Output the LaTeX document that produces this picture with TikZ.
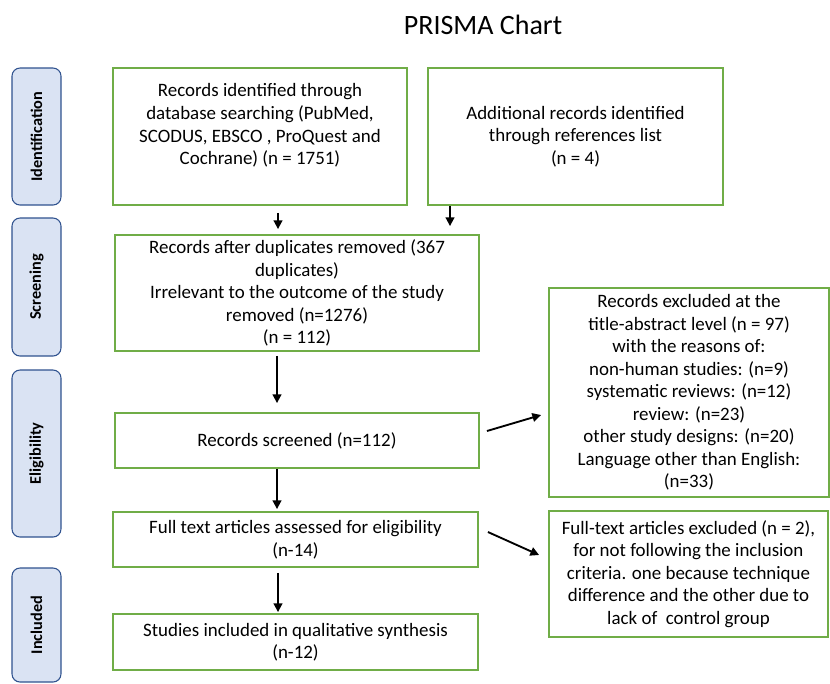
\documentclass[tikz,border=0pt]{standalone}
\usepackage{fontspec}
\setmainfont{Carlito}
\usetikzlibrary{arrows.meta,calc}
\definecolor{boxgreen}{HTML}{70AD47}
\definecolor{sidefill}{HTML}{DAE3F3}
\definecolor{sideline}{HTML}{2F528F}
\begin{document}
\begin{tikzpicture}[x=0.75pt,y=-0.75pt,
  box/.style={draw=boxgreen, line width=1.4pt, fill=white, align=center, inner sep=0pt,
    font=\fontsize{14.2}{16.9}\selectfont},
  txt/.style={align=center, inner sep=0pt, font=\fontsize{14.2}{16.9}\selectfont},
  side/.style={draw=sideline, fill=sidefill, line width=0.8pt, rounded corners=6pt,
    minimum width=36.75pt, inner sep=0pt},
  sidetext/.style={rotate=90, inner sep=0pt, font=\bfseries\fontsize{12.2}{14}\selectfont},
  arr/.style={line width=1.4pt, -{Triangle[length=6.5pt,width=6.5pt]}}]
\useasboundingbox (0,0) rectangle (830,683);

% title
\node[inner sep=0pt, font=\fontsize{21}{25}\selectfont] (title) at (483,25) {PRISMA Chart};

% side stages
\node[side, minimum height=102.75pt] (s1) at (36.5,136.5) {};
\node[sidetext] (s1t) at (s1.center) {Identification};
\node[side, minimum height=103.5pt] (s2) at (36.5,287) {};
\node[sidetext] (s2t) at (s2.center) {Screening};
\node[side, minimum height=125.25pt] (s3) at (36.5,453.5) {};
\node[sidetext] (s3t) at (s3.center) {Eligibility};
\node[side, minimum height=85.5pt] (s4) at (36.5,625) {};
\node[sidetext] (s4t) at (s4.center) {Included};

% main boxes
\node[box, minimum width=220.5pt, minimum height=102.75pt] (b1) at (260,136.5) {};
\node[txt] (b1t) at ($(b1.center)+(0,-11)$) {Records identified through\\database searching (PubMed,\\SCODUS, EBSCO , ProQuest and\\Cochrane) (n = 1751)};
\node[box, minimum width=221.25pt, minimum height=102.75pt] (b2) at (575.5,136.5)
  {Additional records identified\\through references list\\(n = 4)};
\node[box, minimum width=273pt, minimum height=87pt] (b3) at (297,293)
  {Records after duplicates removed (367\\duplicates)\\Irrelevant to the outcome of the study\\removed (n=1276)\\(n = 112)};
\node[box, minimum width=273pt, minimum height=41.25pt] (b4) at (297,440.5)
  {Records screened (n=112)};
\node[box, minimum width=273.75pt, minimum height=41.25pt] (b5) at (295.5,539.5)
  {Full text articles assessed for eligibility\\(n-14)};
\node[box, minimum width=273.75pt, minimum height=42pt] (b6) at (295.5,642)
  {Studies included in qualitative synthesis\\(n-12)};

% exclusion boxes
\node[box, minimum width=210pt, minimum height=156.75pt] (e1) at (689,392.5)
  {Records excluded at the\\title-abstract level (n = 97)\\with the reasons of:\\non-human studies: (n=9)\\systematic reviews: (n=12)\\review: (n=23)\\other study designs: (n=20)\\Language other than English:\\(n=33)};
\node[box, minimum width=209.25pt, minimum height=94.5pt] (e2) at (688.5,574)
  {Full-text articles excluded (n = 2),\\for not following the inclusion\\criteria. one because technique\\difference and the other due to\\lack of\ \ control group};

% arrows
\draw[arr] ($(b1.south)+(18,7)$) -- ($(b3.north)+(-19,-5)$);
\draw[arr] ($(b2.south)+(-125.5,0)$) -- ($(b3.north)+(153,-8)$);
\draw[arr] ($(b3.south)+(-20,4)$) -- ($(b4.north)+(-20,-9)$);
\draw[arr] ($(b4.south)+(-20,0)$) -- ($(b5.north)+(-18.5,-2)$);
\draw[arr] ($(b5.south)+(-17.5,5)$) -- ($(b6.north)+(-17.5,-1)$);
\draw[arr] ($(b4.east)+(7,-9.5)$) -- ($(e1.west)+(-7,22.5)$);
\draw[arr] ($(b5.east)+(9,-7.5)$) -- ($(e2.west)+(-9,-19)$);
\end{tikzpicture}
\end{document}
